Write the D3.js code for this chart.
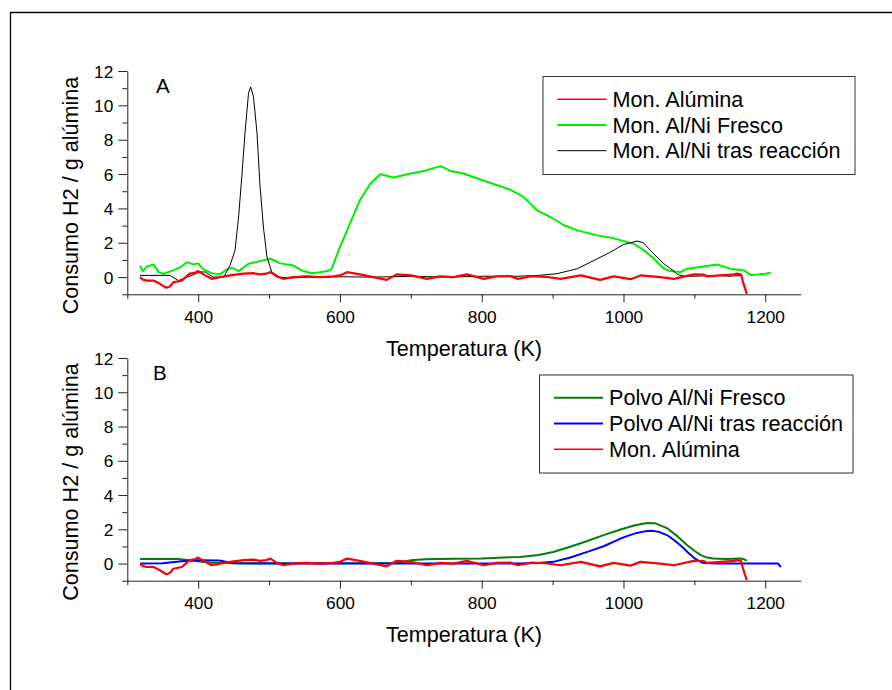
<!DOCTYPE html>
<html><head><meta charset="utf-8">
<script src="https://cdn.jsdelivr.net/npm/d3@7"></script>
<style>body{margin:0;background:#fff}svg{display:block}text{font-family:"Liberation Sans",Arial,sans-serif;fill:#000}</style>
</head><body>
<script>
// ---- data ----
const aluminaT = [318,322,328,337,346,355,360,365,377,388,395,400,410,419,431,445,464,478,487,496,502,511,520,534,553,572,591,600,610,628,647,666,680,700,723,741,760,779,803,821,840,851,870,890,911,940,967,986,1010,1024,1052,1071,1099,1113,1118,1137,1156,1160,1166,1168,1171,1174];
const aluminaV = [0,-0.15,-0.2,-0.2,-0.39,-0.62,-0.55,-0.3,-0.2,0.2,0.25,0.35,0.1,-0.1,0,0.1,0.2,0.23,0.16,0.2,0.29,0.04,-0.1,0,0.04,0,0.04,0.1,0.29,0.16,0,-0.16,0.16,0.1,-0.1,0.04,0,0.16,-0.1,0.04,0.06,-0.1,0.05,0.02,-0.1,0.1,-0.16,0.04,-0.12,0.1,0,-0.1,0.16,0.15,0.04,0.1,0.16,0.2,0.15,-0.2,-0.6,-0.97];

const monFrescoT = [318,322,327,337,344,351,365,376,384,393,400,407,419,431,438,447,457,471,487,502,516,534,546,560,572,582,588,600,614,628,643,657,676,695,718,742,756,774,798,822,840,859,878,897,916,935,963,982,1000,1014,1029,1043,1057,1066,1080,1090,1113,1132,1151,1170,1180,1190,1200,1208];
const monFrescoV = [0.68,0.35,0.6,0.74,0.29,0.2,0.39,0.6,0.87,0.74,0.8,0.47,0.23,0.16,0.39,0.55,0.35,0.78,0.93,1.07,0.8,0.68,0.39,0.23,0.29,0.35,0.45,1.75,3.1,4.47,5.45,5.99,5.8,5.99,6.18,6.46,6.18,6.03,5.68,5.35,5.1,4.67,3.89,3.5,3.02,2.72,2.43,2.3,2.1,1.95,1.56,1.07,0.49,0.35,0.29,0.49,0.62,0.74,0.49,0.39,0.12,0.15,0.2,0.25];

const monTrasT = [318,330,345,360,372,385,402,410,421,436,445,452,457,461.5,466,471,474,478,483,487,492,497,504,515,530,560,600,650,700,750,800,850,880,906,935,963,982,1000,1010,1019,1028,1038,1052,1057,1071,1076,1085,1100,1130,1150,1166,1168,1171,1174];
const monTrasV = [0.1,0.1,0.1,0.1,-0.2,0,0.3,0.3,0,0,0.7,1.56,3.5,5.83,8.37,10.7,11.08,10.5,8.37,5.45,2.92,1.17,0.29,0,-0.05,0,0.02,0,0.05,0,0.05,0.05,0.1,0.2,0.49,1.07,1.46,1.9,2.0,2.1,2.0,1.56,0.97,0.78,0.35,0.16,0.05,0.05,0.1,0.05,0.1,-0.2,-0.6,-0.9];

const polvoFrescoT = [318,350,372,388,417,450,500,600,680,700,720,760,800,854,880,901,925,949,972,996,1015,1033,1045,1062,1076,1090,1100,1109,1118,1127,1145,1165,1170,1174];
const polvoFrescoV = [0.27,0.27,0.27,0.2,0.05,0.02,0.02,0.02,0.03,0.2,0.25,0.28,0.3,0.39,0.5,0.68,0.98,1.32,1.66,1.99,2.22,2.37,2.35,2.05,1.6,1.07,0.75,0.49,0.35,0.29,0.27,0.3,0.25,0.17];

const polvoTrasT = [318,350,380,400,430,450,500,600,700,800,854,880,901,925,949,972,996,1005,1019,1030,1040,1050,1062,1072,1083,1091,1099,1105,1111,1130,1200,1218,1222];
const polvoTrasV = [0,0.02,0.15,0.2,0.18,0.02,0,0,0,0,0,0.04,0.1,0.35,0.68,1.01,1.46,1.6,1.79,1.88,1.91,1.85,1.65,1.35,0.97,0.65,0.35,0.18,0.05,0,0,0,-0.2];

const xMajorTicks = [400,600,800,1000,1200];
const xMinorTicks = [300,500,700,900,1100];
const yMajorTicks = [0,2,4,6,8,10,12];
const yMinorTicks = [-1,1,3,5,7,9,11];

const legendA = ["Mon. Alúmina","Mon. Al/Ni Fresco","Mon. Al/Ni tras reacción"];
const legendB = ["Polvo Al/Ni Fresco","Polvo Al/Ni tras reacción","Mon. Alúmina"];
const xTitle = "Temperatura (K)";
const yTitle = "Consumo H2 / g alúmina";

// ---- drawing ----
const W = 892, H = 690;
const FS_TICK = 17.3, FS_BIG = 21.6;
const svg = d3.select("body").append("svg").attr("width", W).attr("height", H);

svg.append("path").attr("d", `M10.5,${H+5}V12.5H${W+5}`).attr("fill","none").attr("stroke","#000").attr("stroke-width",1.3);

const x = d3.scaleLinear().domain([300,1250]).range([127.3,800.7]);
const zip = (T,V) => T.map((t,i)=>[t,V[i]]);

function panel(opts){
  const y = d3.scaleLinear().domain([-1,12]).range([opts.bottom, opts.top]);
  const g = svg.append("g");
  const axisColor = "#222";
  // x axis
  const xa = g.append("g").attr("transform",`translate(0,${opts.bottom})`)
    .call(d3.axisBottom(x).tickValues(xMajorTicks).tickSize(8).tickSizeOuter(0).tickFormat(d3.format("d")));
  xa.select(".domain").attr("stroke",axisColor);
  xa.selectAll(".tick line").attr("stroke",axisColor);
  xa.selectAll("text").attr("font-size",FS_TICK).attr("font-family","Liberation Sans, Arial, sans-serif")
    .attr("fill","#000").attr("y",22.4).attr("dy","0.35em");
  const xm = g.append("g").attr("transform",`translate(0,${opts.bottom})`)
    .call(d3.axisBottom(x).tickValues(xMinorTicks).tickSize(4.5).tickFormat(""));
  xm.select(".domain").remove();
  xm.selectAll(".tick line").attr("stroke",axisColor);
  // y axis
  const ya = g.append("g").attr("transform",`translate(${x.range()[0]},0)`)
    .call(d3.axisLeft(y).tickValues(yMajorTicks).tickSize(9).tickSizeOuter(0));
  ya.select(".domain").attr("stroke",axisColor);
  ya.selectAll(".tick line").attr("stroke",axisColor);
  ya.selectAll("text").attr("font-size",FS_TICK).attr("font-family","Liberation Sans, Arial, sans-serif").attr("fill","#000").attr("x",-14).attr("dy","0.35em");
  const ym = g.append("g").attr("transform",`translate(${x.range()[0]},0)`)
    .call(d3.axisLeft(y).tickValues(yMinorTicks).tickSize(5).tickFormat(""));
  ym.select(".domain").remove();
  ym.selectAll(".tick line").attr("stroke",axisColor);

  // series
  const line = d3.line().x(d=>x(d[0])).y(d=>y(Math.max(-1,d[1])));
  opts.series.forEach(s=>{
    g.append("path").datum(zip(s.T,s.V)).attr("d",line)
      .attr("fill","none").attr("stroke",s.color).attr("stroke-width",s.w).attr("stroke-linejoin","round");
  });

  // titles
  g.append("text").attr("x",464).attr("y",opts.bottom+61.5).attr("text-anchor","middle").attr("font-size",FS_BIG).text(xTitle);
  g.append("text").attr("transform",`translate(77.5,${opts.ytitleY}) rotate(-90)`).attr("text-anchor","middle").attr("font-size",FS_BIG).text(yTitle);
  g.append("text").attr("x",opts.labelX).attr("y",opts.top+21.5).attr("font-size",20.5).text(opts.label);

  // legend
  const L = opts.legend;
  g.append("rect").attr("x",L.x+0.5).attr("y",L.y+0.5).attr("width",L.w).attr("height",L.h)
    .attr("fill","#fff").attr("stroke","#333").attr("stroke-width",1);
  L.items.forEach((it,i)=>{
    const cy = L.y + 23.3 + i*25.7;
    g.append("line").attr("x1",L.x+15).attr("x2",L.x+64).attr("y1",cy).attr("y2",cy)
      .attr("stroke",it.color).attr("stroke-width",it.lw);
    g.append("text").attr("x",L.x+70).attr("y",cy).attr("dy","0.35em").attr("font-size",FS_BIG).text(it.name);
  });
}

const red = "#ff0000", lime = "#00ee00", black = "#000", dgreen = "#008000", blue = "#0000ff";

panel({
  top:71, bottom:294.3, ytitleY:195.5, label:"A", labelX:156,
  series:[
    {T:monFrescoT,V:monFrescoV,color:lime,w:2},
    {T:monTrasT,V:monTrasV,color:black,w:1},
    {T:aluminaT,V:aluminaV,color:red,w:2.2}
  ],
  legend:{x:542.5,y:76,w:312,h:98,items:[
    {name:legendA[0],color:red,lw:1.5},
    {name:legendA[1],color:lime,lw:2},
    {name:legendA[2],color:black,lw:1}
  ]}
});

panel({
  top:358, bottom:580.7, ytitleY:482, label:"B", labelX:153,
  series:[
    {T:polvoFrescoT,V:polvoFrescoV,color:dgreen,w:2},
    {T:polvoTrasT,V:polvoTrasV,color:blue,w:2},
    {T:aluminaT,V:aluminaV,color:red,w:2.2}
  ],
  legend:{x:539,y:374.5,w:313.5,h:98,items:[
    {name:legendB[0],color:dgreen,lw:2},
    {name:legendB[1],color:blue,lw:2},
    {name:legendB[2],color:red,lw:1.5}
  ]}
});
</script>
</body></html>
